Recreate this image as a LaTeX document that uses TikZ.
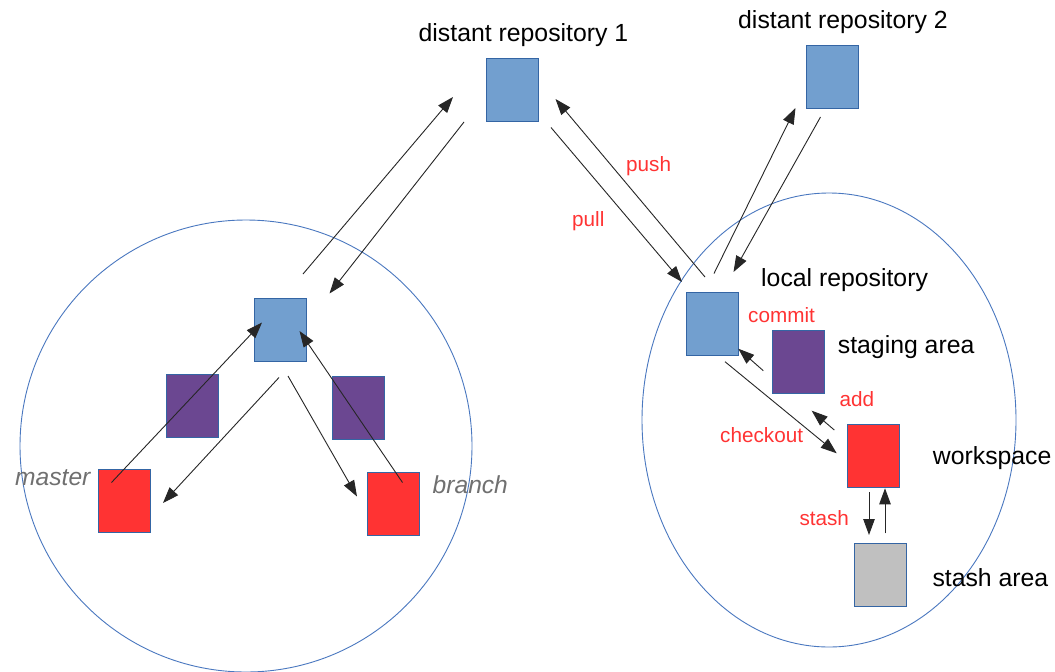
\documentclass[tikz,border=0pt]{standalone}
\usepackage{fontspec}
\setmainfont{Liberation Sans}
\usetikzlibrary{arrows.meta}

\definecolor{repoblue}{HTML}{729FCF}
\definecolor{edgeblue}{HTML}{3465A4}
\definecolor{stagepurple}{HTML}{6B4791}
\definecolor{workred}{HTML}{FF3333}
\definecolor{stashgray}{HTML}{C0C0C0}
\definecolor{ringblue}{HTML}{4A78C0}
\definecolor{cmdred}{HTML}{FF3333}
\definecolor{branchgray}{HTML}{707070}

\tikzset{
  box/.style={draw=edgeblue, line width=0.9pt, minimum width=52pt, minimum height=63pt, inner sep=0pt},
  repobox/.style={box, fill=repoblue},
  stagebox/.style={box, fill=stagepurple},
  workbox/.style={box, fill=workred},
  stashbox/.style={box, fill=stashgray},
  ring/.style={draw=ringblue, line width=0.9pt},
  flow/.style={draw=black!85, line width=0.9pt, -{Triangle[length=16pt, width=11.5pt]}},
  title/.style={anchor=base west, inner sep=0pt, font=\fontsize{24.8}{29}\selectfont},
  cmd/.style={anchor=base west, inner sep=0pt, text=cmdred, font=\fontsize{20.7}{24}\selectfont},
  ref/.style={anchor=base west, inner sep=0pt, text=branchgray, font=\fontsize{24.6}{29}\selectfont\itshape},
}

\begin{document}
\begin{tikzpicture}[x=1pt, y=-1pt]
  \useasboundingbox (0,0) rectangle (1055,672);
  \fill[white] (0,0) rectangle (1055,672);

  % the two machines
  \draw[ring] (246,446) circle [radius=226];
  \draw[ring] (829,420) ellipse [x radius=187, y radius=227];

  % remote repositories
  \node[repobox] (remote1) at (512.5,89.5) {};
  \node[repobox] (remote2) at (832.5,76.5) {};
  \node[title] (remote1label) at (418.5,41) {distant repository 1};
  \node[title] (remote2label) at (738,28) {distant repository 2};

  % first clone: branches
  \node[repobox] (hub) at (280,329.5) {};
  \node[stagebox] (stageA) at (192,405.5) {};
  \node[stagebox] (stageB) at (358,407.5) {};
  \node[workbox] (master) at (124,500.5) {};
  \node[workbox] (branch) at (393,503.5) {};
  \node[ref] (masterlabel) at (15,485) {master};
  \node[ref] (branchlabel) at (432.5,493.5) {branch};

  % second clone: working areas
  \node[repobox] (local) at (712.7,324.3) {};
  \node[stagebox] (staging) at (798.7,361.7) {};
  \node[workbox] (work) at (873.8,456.3) {};
  \node[stashbox] (stash) at (880.2,575.3) {};
  \node[title] (locallabel) at (761,286.5) {local repository};
  \node[title] (staginglabel) at (837.7,353.3) {staging area};
  \node[title] (worklabel) at (932.7,464) {workspace};
  \node[title] (stashlabel) at (932.3,586) {stash area};

  % command names
  \node[cmd] (push) at (626,171.5) {push};
  \node[cmd] (pull) at (572,226.5) {pull};
  \node[cmd] (commit) at (748,322.7) {commit};
  \node[cmd] (add) at (839.3,406) {add};
  \node[cmd] (checkout) at (720,442.7) {checkout};
  \node[cmd] (stashcmd) at (799.3,525.7) {stash};

  % arrow end points
  \coordinate (hubUpA) at (303,274);
  \coordinate (rem1InA) at (453,97);
  \coordinate (rem1OutA) at (464,122);
  \coordinate (hubInA) at (329.5,293.5);
  \coordinate (masterOut) at (111.5,482.5);
  \coordinate (hubInM) at (262,322.5);
  \coordinate (hubOutM) at (279,377.5);
  \coordinate (masterIn) at (163,503);
  \coordinate (hubOutB) at (288,376);
  \coordinate (branchIn) at (357,496.5);
  \coordinate (branchOut) at (402.5,482.5);
  \coordinate (hubInB) at (299.5,331);

  \coordinate (localUp1) at (705,277);
  \coordinate (rem1InB) at (555.5,99);
  \coordinate (rem1OutB) at (551,127.5);
  \coordinate (localIn1) at (682,282);
  \coordinate (localUp2) at (714,273.5);
  \coordinate (rem2In) at (795.5,108);
  \coordinate (rem2Out) at (820.5,117);
  \coordinate (localIn2) at (733.5,272);

  \coordinate (stagingOut) at (763.3,370.7);
  \coordinate (localInC) at (738.3,348.7);
  \coordinate (workOutA) at (834.3,430);
  \coordinate (stagingIn) at (811.7,410.7);
  \coordinate (localOutC) at (725,361.7);
  \coordinate (workInC) at (836.7,453.3);
  \coordinate (workOutS) at (869,492.3);
  \coordinate (stashInS) at (869,535);
  \coordinate (stashOutS) at (885,533.3);
  \coordinate (workInS) at (885,488.3);

  % exchanges with the remotes
  \draw[flow] (hubUpA) -- (rem1InA);
  \draw[flow] (rem1OutA) -- (hubInA);
  \draw[flow] (localUp1) -- (rem1InB);
  \draw[flow] (rem1OutB) -- (localIn1);
  \draw[flow] (localUp2) -- (rem2In);
  \draw[flow] (rem2Out) -- (localIn2);

  % branching and merging
  \draw[flow] (masterOut) -- (hubInM);
  \draw[flow] (hubOutM) -- (masterIn);
  \draw[flow] (hubOutB) -- (branchIn);
  \draw[flow] (branchOut) -- (hubInB);

  % local workflow
  \draw[flow] (stagingOut) -- (localInC);
  \draw[flow] (workOutA) -- (stagingIn);
  \draw[flow] (localOutC) -- (workInC);
  \draw[flow] (workOutS) -- (stashInS);
  \draw[flow] (stashOutS) -- (workInS);
\end{tikzpicture}
\end{document}
